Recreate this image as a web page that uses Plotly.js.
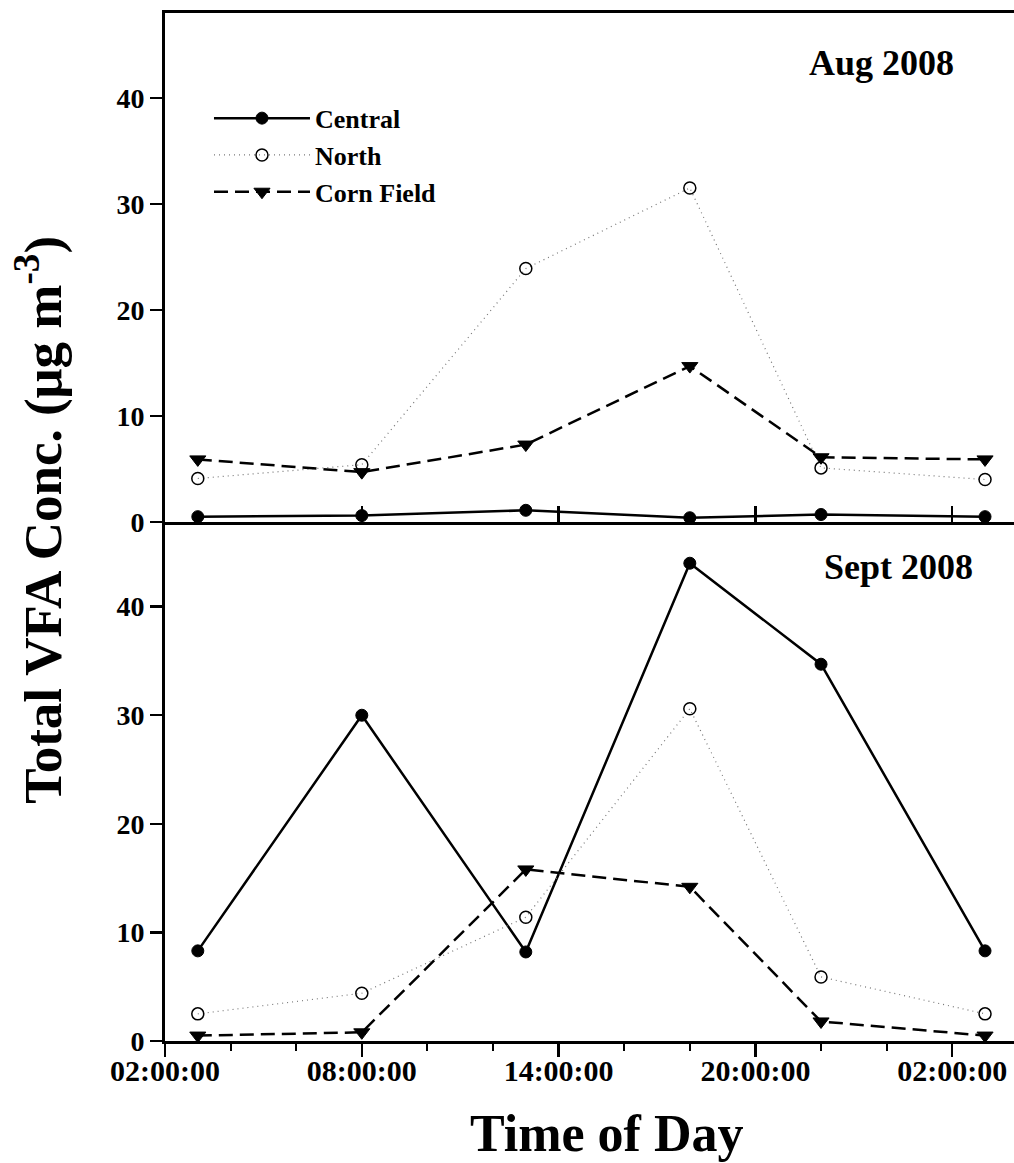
<!DOCTYPE html>
<html>
<head>
<meta charset="utf-8">
<script src="https://cdn.plot.ly/plotly-3.0.1.min.js"></script>
<style>html,body{margin:0;padding:0;background:#fff;overflow:hidden}</style>
</head>
<body>
<div id="chart" style="width:1014px;height:1163px"></div>
<script>
// Sampling times (time of day)
const times = ['2008-08-01 03:00:00','2008-08-01 08:00:00','2008-08-01 13:00:00','2008-08-01 18:00:00','2008-08-01 22:00:00','2008-08-02 03:00:00'];

// Aug 2008 panel
const augCentral = [0.5, 0.6, 1.1, 0.4, 0.7, 0.5];
const augNorth   = [4.1, 5.4, 23.9, 31.5, 5.1, 4.0];
const augCorn    = [5.9, 4.7, 7.3, 14.7, 6.1, 5.9];

// Sept 2008 panel
const sepCentral = [8.3, 30.0, 8.2, 44.0, 34.7, 8.3];
const sepNorth   = [2.5, 4.4, 11.4, 30.6, 5.9, 2.5];
const sepCorn    = [0.5, 0.8, 15.8, 14.2, 1.8, 0.5];

const seriesNames = ['Central', 'North', 'Corn Field'];
const panelLabels = ['Aug 2008', 'Sept 2008'];
const yTitle = 'Total VFA Conc. (μg m<sup>-3</sup>)';
const xTitle = 'Time of Day';

const FONT = 'Liberation Serif, Times New Roman, serif';

const styles = [
  {line:{color:'#000', width:2.5, dash:'solid'}, marker:{symbol:'circle', size:12, color:'#000', line:{color:'#000', width:1}}},
  {line:{color:'#777', width:1.2, dash:'1px,4px'}, marker:{symbol:'circle-open', size:12, color:'#000', line:{color:'#000', width:1.5}}},
  {line:{color:'#000', width:2.5, dash:'14px,7px'}, marker:{symbol:'triangle-down', size:14, color:'#000', line:{color:'#000', width:1}}}
];

function mk(y, i, xa, ya, show) {
  return {
    x: times, y: y, type: 'scatter', mode: 'lines+markers',
    name: seriesNames[i], legendgroup: seriesNames[i], showlegend: show,
    xaxis: xa, yaxis: ya, cliponaxis: false,
    line: styles[i].line, marker: styles[i].marker
  };
}

const data = [
  mk(augCentral, 0, 'x2', 'y2', true),
  mk(augNorth, 1, 'x2', 'y2', true),
  mk(augCorn, 2, 'x2', 'y2', true),
  mk(sepCentral, 0, 'x', 'y', false),
  mk(sepNorth, 1, 'x', 'y', false),
  mk(sepCorn, 2, 'x', 'y', false)
];

const xRange = ['2008-08-01 02:00:00', '2008-08-02 03:53:00'];
const H = 3600000;
const split = 0.5049;

const yTickFont = {family: FONT, size: 28, color: '#000', weight: 'bold'};
const xTickFont = {family: FONT, size: 30, color: '#000', weight: 'bold'};

const layout = {
  width: 1014, height: 1163,
  margin: {l: 165, r: 0, t: 13, b: 122},
  paper_bgcolor: '#fff', plot_bgcolor: '#fff',
  font: {family: FONT, color: '#000'},
  showlegend: true,
  legend: {
    x: 0.0518, y: 0.9205, xanchor: 'left', yanchor: 'top',
    xref: 'paper', yref: 'paper',
    bgcolor: 'rgba(0,0,0,0)', borderwidth: 0,
    itemwidth: 96, tracegroupgap: 0,
    font: {family: FONT, size: 26, color: '#000', weight: 'bold'}
  },
  xaxis: {
    type: 'date', anchor: 'y', range: xRange,
    tick0: '2008-08-01 02:00:00', dtick: 6 * H, tickformat: '%H:%M:%S',
    ticks: 'outside', ticklen: 13, tickwidth: 2.5, tickcolor: '#000',
    minor: {tick0: '2008-08-01 02:00:00', dtick: 2 * H, ticks: 'outside', ticklen: 7, tickwidth: 2, tickcolor: '#000', showgrid: false},
    showline: true, linewidth: 3, linecolor: '#000',
    showgrid: false, zeroline: false,
    tickfont: xTickFont, ticklabelstandoff: -12
  },
  xaxis2: {
    type: 'date', anchor: 'y2', matches: 'x', range: xRange,
    tick0: '2008-08-01 02:00:00', dtick: 6 * H,
    ticks: 'inside', ticklen: 16, tickwidth: 2.5, tickcolor: '#000',
    showticklabels: false,
    showline: true, mirror: true, linewidth: 3, linecolor: '#000',
    showgrid: false, zeroline: false
  },
  yaxis: {
    domain: [0, split], anchor: 'x', range: [0, 47.8],
    tick0: 0, dtick: 10, ticks: 'outside', ticklen: 12, tickwidth: 2.5, tickcolor: '#000',
    showline: true, linewidth: 3, linecolor: '#000',
    showgrid: false, zeroline: false, tickfont: yTickFont
  },
  yaxis2: {
    domain: [split, 1], anchor: 'x2', range: [0, 48],
    tick0: 0, dtick: 10, ticks: 'outside', ticklen: 12, tickwidth: 2.5, tickcolor: '#000',
    showline: true, linewidth: 3, linecolor: '#000',
    showgrid: false, zeroline: false, tickfont: yTickFont
  },
  annotations: [
    {text: panelLabels[0], xref: 'paper', yref: 'paper', x: 0.8445, y: 0.951, xanchor: 'center', yanchor: 'middle', showarrow: false,
     font: {family: FONT, size: 36, color: '#000', weight: 'bold'}},
    {text: panelLabels[1], xref: 'paper', yref: 'paper', x: 0.8645, y: 0.461, xanchor: 'center', yanchor: 'middle', showarrow: false,
     font: {family: FONT, size: 36, color: '#000', weight: 'bold'}},
    {text: yTitle, xref: 'paper', yref: 'paper', x: -0.1472, y: 0.507, xanchor: 'center', yanchor: 'middle', textangle: -90, showarrow: false,
     font: {family: FONT, size: 53, color: '#000', weight: 'bold'}},
    {text: xTitle, xref: 'paper', yref: 'paper', x: 0.52, y: -0.0895, xanchor: 'center', yanchor: 'middle', showarrow: false,
     font: {family: FONT, size: 52, color: '#000', weight: 'bold'}}
  ]
};

Plotly.newPlot('chart', data, layout, {displayModeBar: false, staticPlot: true});
</script>
</body>
</html>
